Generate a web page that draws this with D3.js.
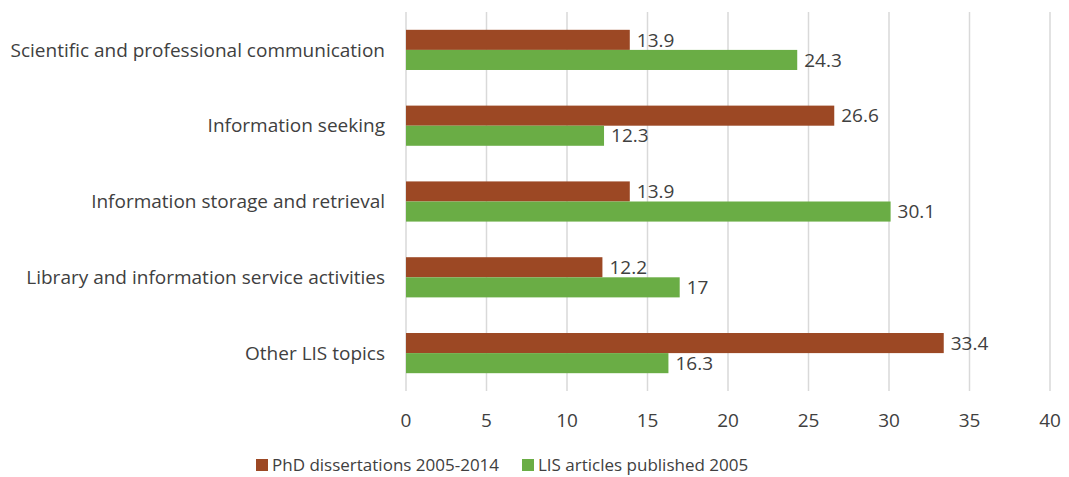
<!DOCTYPE html>
<html>
<head>
<meta charset="utf-8">
<script src="https://cdn.jsdelivr.net/npm/d3@7"></script>
<style>
  body { margin: 0; background: #fff; }
  text { font-family: "Open Sans", "Noto Sans", sans-serif; fill: #404040; }
</style>
</head>
<body>
<div id="chart"></div>
<script>
// data
const categories = [
  "Scientific and professional communication",
  "Information seeking",
  "Information storage and retrieval",
  "Library and information service activities",
  "Other LIS topics"
];
const seriesNames = ["PhD dissertations 2005-2014", "LIS articles published 2005"];
const phdValues = [13.9, 26.6, 13.9, 12.2, 33.4];
const lisValues = [24.3, 12.3, 30.1, 17, 16.3];
const xTicks = [0, 5, 10, 15, 20, 25, 30, 35, 40];

const width = 1069, height = 477;
const colors = ["#9C4824", "#6AAD45"];

const svg = d3.select("#chart").append("svg")
  .attr("width", width)
  .attr("height", height);

const x = d3.scaleLinear().domain([0, 40]).range([406, 1050]);
const y = d3.scaleBand().domain(categories).range([12, 391]).paddingInner(0.47).paddingOuter(0.235);
const ySub = d3.scaleBand().domain([0, 1]).range([0, y.bandwidth()]);

// gridlines
svg.append("g")
  .selectAll("line")
  .data(xTicks)
  .join("line")
  .attr("x1", d => x(d)).attr("x2", d => x(d))
  .attr("y1", 12).attr("y2", 391)
  .attr("stroke", "#d9d9d9")
  .attr("stroke-width", 1.5);

// x tick labels
svg.append("g")
  .selectAll("text")
  .data(xTicks)
  .join("text")
  .attr("x", d => x(d))
  .attr("y", 420)
  .attr("dy", "0.35em")
  .attr("text-anchor", "middle")
  .style("font-size", "19px")
  .text(d => d);

// category labels
svg.append("g")
  .selectAll("text")
  .data(categories)
  .join("text")
  .attr("x", 385)
  .attr("y", d => y(d) + y.bandwidth() / 2)
  .attr("dy", "0.35em")
  .attr("text-anchor", "end")
  .style("font-size", "19px")
  .text(d => d);

// bars
const series = [phdValues, lisValues];
series.forEach((vals, si) => {
  const g = svg.append("g");
  g.selectAll("rect")
    .data(vals)
    .join("rect")
    .attr("x", x(0))
    .attr("y", (d, i) => y(categories[i]) + ySub(si))
    .attr("width", d => x(d) - x(0))
    .attr("height", ySub.bandwidth())
    .attr("fill", colors[si]);
  g.selectAll("text")
    .data(vals)
    .join("text")
    .attr("x", d => x(d) + 7)
    .attr("y", (d, i) => y(categories[i]) + ySub(si) + ySub.bandwidth() / 2)
    .attr("dy", "0.35em")
    .style("font-size", "19px")
    .text(d => d);
});

// legend
const legendX = [256, 522];
const legend = svg.append("g")
  .selectAll("g")
  .data(seriesNames)
  .join("g")
  .attr("transform", (d, i) => `translate(${legendX[i]}, 465)`);
legend.append("rect")
  .attr("x", 0).attr("y", -6)
  .attr("width", 12).attr("height", 12)
  .attr("fill", (d, i) => colors[i]);
legend.append("text")
  .attr("x", 16)
  .attr("y", 0)
  .attr("dy", "0.35em")
  .style("font-size", "17px")
  .text(d => d);
</script>
</body>
</html>
